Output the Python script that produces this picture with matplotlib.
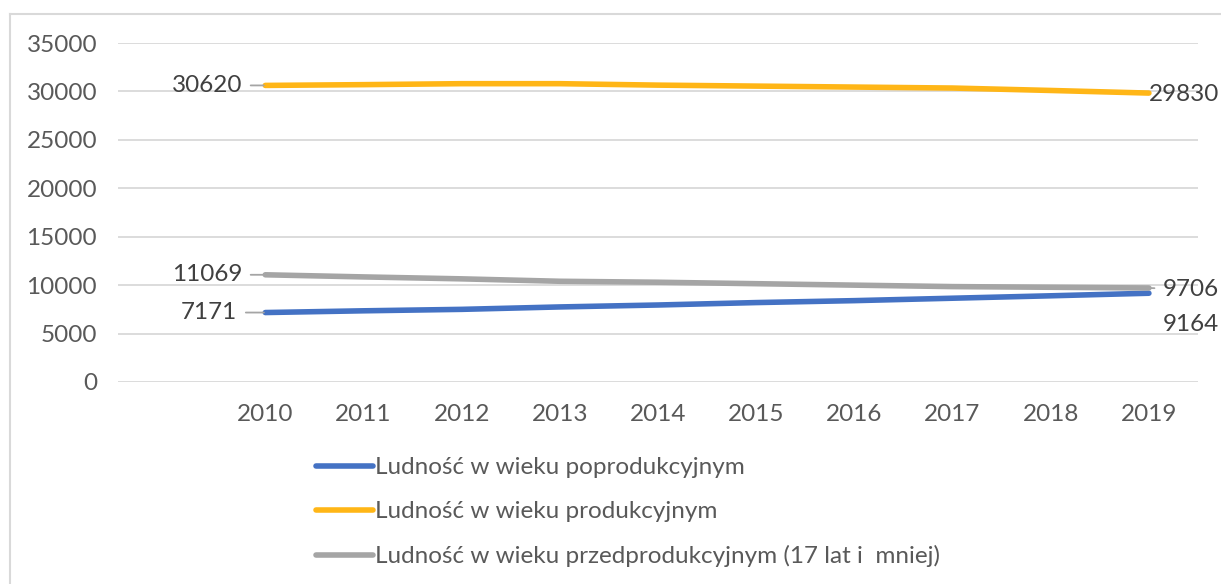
import matplotlib
matplotlib.use("Agg")
import matplotlib.pyplot as plt
from matplotlib.lines import Line2D

plt.rcParams['font.family'] = ['Lato', 'DejaVu Sans']

years = ['2010', '2011', '2012', '2013', '2014', '2015', '2016', '2017', '2018', '2019']
poprod = [7171, 7350, 7500, 7750, 7950, 8200, 8400, 8650, 8900, 9164]
prod = [30620, 30700, 30800, 30800, 30650, 30550, 30450, 30350, 30100, 29830]
przed = [11069, 10850, 10650, 10400, 10300, 10150, 10000, 9850, 9780, 9706]
labels = ['Ludność w wieku poprodukcyjnym',
          'Ludność w wieku produkcyjnym',
          'Ludność w wieku przedprodukcyjnym (17 lat i  mniej)']
colors = ['#4472C4', '#FFB617', '#A5A5A5']
yticks = [0, 5000, 10000, 15000, 20000, 25000, 30000, 35000]

W, H = 1221, 584
FS = 17.5
fig = plt.figure(figsize=(W / 100, H / 100), dpi=100)
ax = fig.add_axes([118 / W, 1 - 382 / H, (1198 - 118) / W, (382 - 43) / H])

x = list(range(len(years)))
series = [poprod, prod, przed]
for s, c in zip(series, colors):
    ax.plot(x, s, color=c, lw=4, solid_capstyle='round', zorder=3)

ax.set_xlim(-1.5, len(years) - 0.5)
ax.set_ylim(0, 35000)
ax.set_yticks(yticks)
ax.set_yticklabels([str(v) for v in yticks])
ax.set_xticks(x)
ax.set_xticklabels(years)
ax.grid(axis='y', color='#D9D9D9', lw=1.3)
ax.set_axisbelow(True)
for sp in ax.spines.values():
    sp.set_visible(False)
ax.tick_params(length=0, labelsize=FS, labelcolor='#595959')
ax.tick_params(axis='y', pad=15)
ax.tick_params(axis='x', pad=16)

tc = '#404040'
lead = dict(arrowstyle='-', color='#A5A5A5', lw=1.3, shrinkA=4, shrinkB=1)
# left labels
ax.annotate(str(prod[0]), xy=(x[0], prod[0]), xytext=(-16.5, 0), textcoords='offset points',
            ha='right', va='center', fontsize=FS, color=tc, arrowprops=lead)
ax.annotate(str(przed[0]), xy=(x[0], przed[0]), xytext=(-16.5, 0), textcoords='offset points',
            ha='right', va='center', fontsize=FS, color=tc, arrowprops=lead)
ax.annotate(str(poprod[0]), xy=(x[0], poprod[0]), xytext=(-20, 0), textcoords='offset points',
            ha='right', va='center', fontsize=FS, color=tc, arrowprops=lead)
# right labels
ax.annotate(str(prod[-1]), xy=(x[-1], prod[-1]), xytext=(0, -1), textcoords='offset points',
            ha='left', va='center', fontsize=FS, color=tc)
ax.annotate(str(przed[-1]), xy=(x[-1], przed[-1]), xytext=(10, -1), textcoords='offset points',
            ha='left', va='center', fontsize=FS, color=tc, arrowprops=lead)
ax.annotate(str(poprod[-1]), xy=(x[-1], poprod[-1]), xytext=(10, -22.5), textcoords='offset points',
            ha='left', va='center', fontsize=FS, color=tc)

handles = [Line2D([], [], color=c, lw=4, solid_capstyle='round') for c in colors]
leg = fig.legend(handles, labels, loc='upper left', bbox_to_anchor=(316 / W, 1 - 457 / H),
                 frameon=False, fontsize=FS, handlelength=2.35, handletextpad=0.08,
                 labelspacing=0.95, borderaxespad=0, borderpad=0)
for t in leg.get_texts():
    t.set_color('#595959')

# outer chart border (left and top edges)
fig.add_artist(Line2D([10 / W, 10 / W], [0, 1 - 14 / H], color='#D9D9D9', lw=1.5))
fig.add_artist(Line2D([10 / W, 1], [1 - 14 / H, 1 - 14 / H], color='#D9D9D9', lw=1.5))

fig.savefig('out.png', dpi=100)
